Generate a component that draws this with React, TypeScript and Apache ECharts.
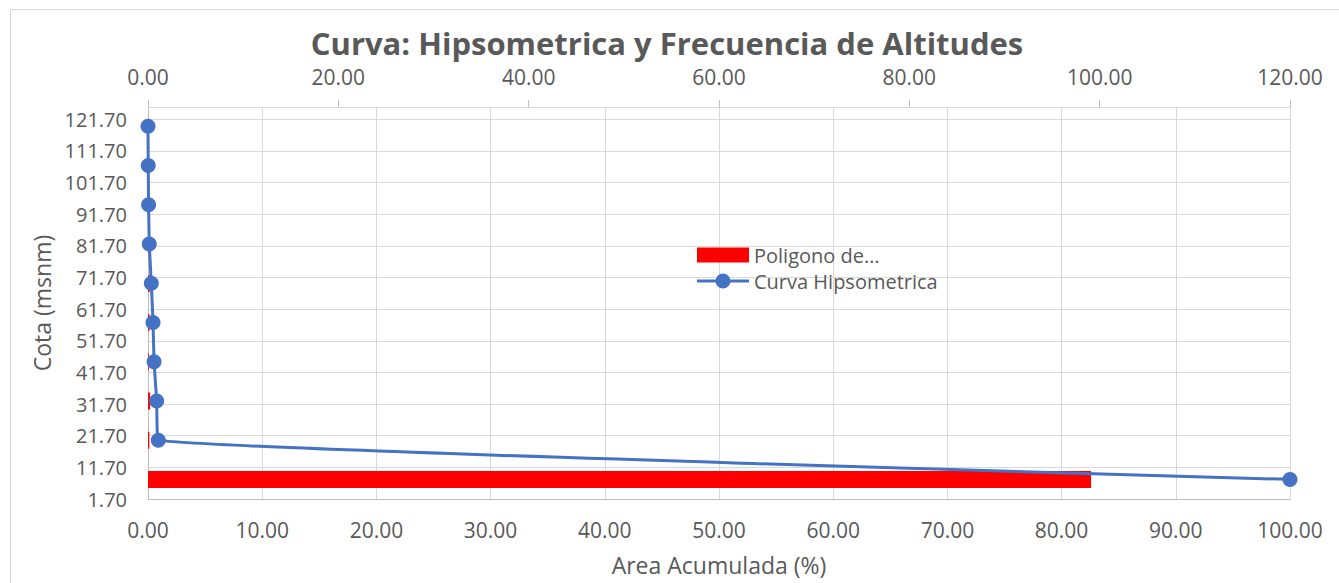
import React, { useEffect, useRef } from "react";
import * as echarts from "echarts";

// Elevation classes (bottom to top), band centers (msnm)
const elevations = [7.9, 20.3, 32.7, 45.1, 57.5, 69.9, 82.3, 94.7, 107.1, 119.5];
const classLabels = [
  "1.70-14.09", "14.09-26.48", "26.48-38.87", "38.87-51.26", "51.26-63.65",
  "63.65-76.04", "76.04-88.43", "88.43-100.82", "100.82-113.21", "113.21-125.60",
];
// Cumulative area (%) for each elevation (bottom to top)
const cumulativeArea = [100, 0.9, 0.76, 0.53, 0.44, 0.29, 0.11, 0.05, 0.02, 0.0];
// Frequency of altitudes (%) per class (bottom to top)
const frequency = [99.1, 0.14, 0.23, 0.09, 0.15, 0.18, 0.08, 0.03, 0.02, 0.02];

const TITLE = "Curva: Hipsometrica y Frecuencia de Altitudes";
const FONT = "'Open Sans', sans-serif";
const GREY = "#595959";
const LINE_ICON =
  "path://M0,6 L52,6 L52,9 L0,9 Z M18.5,7.5 A7.5,7.5 0 1 1 33.5,7.5 A7.5,7.5 0 1 1 18.5,7.5 Z";

export default function App() {
  const ref = useRef<HTMLDivElement>(null);
  useEffect(() => {
    if (!ref.current) return;
    const chart = echarts.init(ref.current, null, { renderer: "svg" });
    const fmt = (v: number) => v.toFixed(2);
    chart.setOption({
      animation: false,
      backgroundColor: "#ffffff",
      textStyle: { fontFamily: FONT },
      grid: { left: 148, right: 49, top: 107, bottom: 84 },
      graphic: [
        {
          type: "rect",
          shape: { x: 10.5, y: 9.5, width: 1400, height: 600 },
          style: { fill: "none", stroke: "#d9d9d9", lineWidth: 1 },
          silent: true,
        },
        {
          type: "text",
          x: 667,
          y: 43,
          style: {
            text: TITLE,
            fontFamily: FONT,
            fontWeight: "bold",
            fontSize: 31,
            fill: GREY,
            textAlign: "center",
            textVerticalAlign: "middle",
          },
        },
      ],
      legend: {
        orient: "vertical",
        left: 692,
        top: 240,
        itemWidth: 52,
        itemHeight: 15,
        itemGap: 6,
        textStyle: { fontSize: 20, color: GREY, fontFamily: FONT },
        formatter: (name: string) => (name.startsWith("Poligono") ? "Poligono de…" : name),
        data: [
          { name: "Poligono de Frecuencia", icon: "rect" },
          { name: "Curva Hipsometrica", icon: LINE_ICON },
        ],
      },
      xAxis: [
        {
          type: "value",
          position: "bottom",
          min: 0,
          max: 100,
          interval: 10,
          name: "Area Acumulada (%)",
          nameLocation: "middle",
          nameGap: 54,
          nameTextStyle: { fontSize: 23, color: GREY, fontFamily: FONT },
          axisLine: { show: true, lineStyle: { color: "#bfbfbf", width: 1 } },
          axisTick: { show: false },
          axisLabel: { formatter: fmt, fontSize: 21, color: GREY, margin: 20, fontFamily: FONT },
          splitLine: { show: true, lineStyle: { color: "#d9d9d9", width: 1 } },
        },
        {
          type: "value",
          position: "top",
          min: 0,
          max: 120,
          interval: 20,
          axisLine: { show: true, lineStyle: { color: "#d9d9d9", width: 1 } },
          axisTick: { show: true, length: 7, lineStyle: { color: "#bfbfbf" } },
          axisLabel: { formatter: fmt, fontSize: 21, color: GREY, margin: 20, fontFamily: FONT },
          splitLine: { show: false },
        },
      ],
      yAxis: [
        {
          type: "value",
          min: 1.7,
          max: 125.6,
          interval: 10,
          name: "Cota (msnm)",
          nameLocation: "middle",
          nameGap: 90,
          nameTextStyle: { fontSize: 23, color: GREY, fontFamily: FONT },
          axisLine: { show: true, lineStyle: { color: "#bfbfbf", width: 1 } },
          axisTick: { show: false },
          axisLabel: {
            formatter: fmt,
            fontSize: 20,
            color: GREY,
            margin: 21,
            showMaxLabel: false,
            fontFamily: FONT,
          },
          splitLine: { show: true, lineStyle: { color: "#d9d9d9", width: 1 } },
        },
        {
          type: "category",
          data: classLabels,
          show: false,
          boundaryGap: true,
        },
      ],
      series: [
        {
          name: "Poligono de Frecuencia",
          type: "bar",
          xAxisIndex: 1,
          yAxisIndex: 1,
          data: frequency,
          barWidth: 17,
          itemStyle: { color: "#ff0000" },
          z: 2,
        },
        {
          name: "Curva Hipsometrica",
          type: "line",
          xAxisIndex: 0,
          yAxisIndex: 0,
          data: cumulativeArea.map((a, i) => [a, elevations[i]]),
          smooth: 0.12,
          symbol: "circle",
          symbolSize: 15,
          itemStyle: { color: "#4472c4" },
          lineStyle: { color: "#4472c4", width: 3 },
          z: 3,
        },
      ],
    });
    return () => chart.dispose();
  }, []);
  return (
    <div
      ref={ref}
      style={{ position: "absolute", left: 0, top: 0, width: 1339, height: 583, background: "#fff" }}
    />
  );
}
